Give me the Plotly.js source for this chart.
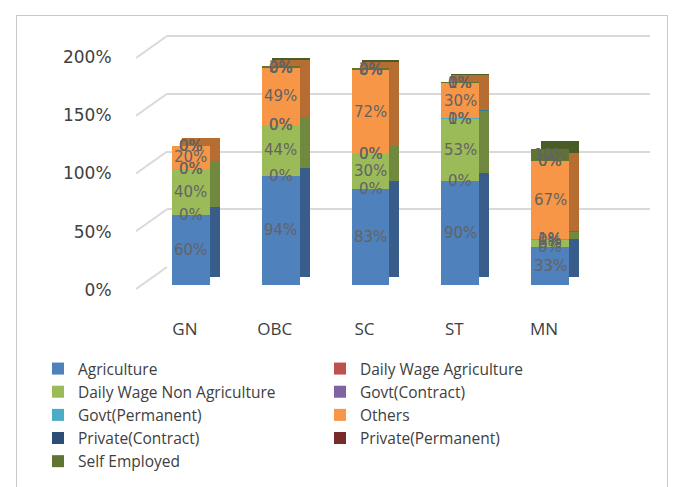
<!DOCTYPE html>
<html>
<head>
<meta charset="utf-8">
<script src="https://cdn.plot.ly/plotly-3.0.1.min.js"></script>
<style>
  html, body { margin: 0; padding: 0; background: #ffffff; overflow: hidden; }
  #wrap { position: relative; width: 681px; height: 487px; }
  #chart { position: absolute; left: 0; top: 0; width: 681px; height: 487px; }
  #frame { position: absolute; left: 16px; top: 15px; width: 650px; height: 480px;
           border-top: 1px solid #c8c8c8; border-left: 1px solid #c8c8c8; border-right: 1px solid #c8c8c8;
           pointer-events: none; }
</style>
</head>
<body>
<div id="wrap">
  <div id="chart"></div>
  <div id="frame"></div>
</div>
<script>
// ---- data (percent) ----
const categories = ['GN', 'OBC', 'SC', 'ST', 'MN'];
const seriesNames = ['Agriculture', 'Daily Wage Agriculture', 'Daily Wage Non Agriculture',
  'Govt(Contract)', 'Govt(Permanent)', 'Others', 'Private(Contract)', 'Private(Permanent)', 'Self Employed'];
const agriculture        = [60, 94, 83, 90, 33];
const dailyWageAgri      = [0, 0, 0, 0, 0];
const dailyWageNonAgri   = [40, 44, 30, 53, 6];
const govtContract       = [0, 0, 0, 0, 0];
const govtPermanent      = [0, 0, 0, 1, 1];
const others             = [20, 49, 72, 30, 67];
const privateContract    = [0, 0, 0, 0, 0];
const privatePermanent   = [0, 0, 0, 0, 0];
const selfEmployed       = [0, 2, 2, 1, 10];
const tickValues = [0, 50, 100, 150, 200];

const seriesValues = [agriculture, dailyWageAgri, dailyWageNonAgri, govtContract, govtPermanent,
  others, privateContract, privatePermanent, selfEmployed];

// ---- styles ----
const frontColors = ['#4F81BD', '#C0504D', '#9BBB59', '#8064A2', '#4BACC6', '#F79646', '#2C4D75', '#772C2A', '#5F7530'];
const sideColors  = ['#385D8A', '#8C3A38', '#71893F', '#5C4776', '#357D91', '#B66D31', '#1E3552', '#561F1E', '#4A5C25'];

const W = 681, H = 487, yMax = 210;
const px = x => x / W;
const py = y => (H - y) / H;
function yDomain(basePx, k) { return [py(basePx), py(basePx - yMax * k)]; }

const front = { xL: 146, xR: 595, base: 285, k: 1.16 };
const back  = { xL: 156, xR: 605, base: 277, k: 1.16 };
const grid  = { xL: 167, xR: 650, base: 267, k: 1.155 };
const lab   = { xL: 140, xR: 589, base: 290, k: 1.165 };

const xIdx = categories.map((c, i) => i);
const totals = categories.map((c, i) => seriesValues.reduce((a, vals) => a + vals[i], 0));

const traces = [];
// invisible carriers so that the wall grid and the label axes get drawn
traces.push({ type: 'bar', x: xIdx, y: totals, xaxis: 'x', yaxis: 'y', showlegend: false,
  hoverinfo: 'skip', marker: { color: 'rgba(0,0,0,0)' } });
// back (depth) copy
seriesValues.forEach((vals, s) => {
  traces.push({
    type: 'bar', x: xIdx, y: vals, name: seriesNames[s],
    xaxis: 'x2', yaxis: 'y2', showlegend: false, hoverinfo: 'skip',
    marker: { color: sideColors[s], line: { width: 0 } }
  });
});
// front faces
seriesValues.forEach((vals, s) => {
  traces.push({
    type: 'bar', x: xIdx, y: vals, name: seriesNames[s],
    xaxis: 'x3', yaxis: 'y3', textposition: 'none',
    marker: { color: frontColors[s], line: { width: 0 } }
  });
});
traces.push({ type: 'bar', x: xIdx, y: totals, xaxis: 'x4', yaxis: 'y4', showlegend: false,
  hoverinfo: 'skip', marker: { color: 'rgba(0,0,0,0)' } });

// data labels (centred on each segment)
const annotations = [];
const cum = categories.map(() => 0);
seriesValues.forEach((vals) => {
  vals.forEach((v, i) => {
    annotations.push({
      xref: 'x3', yref: 'y3', x: i, y: cum[i] + v / 2, text: v + '%', showarrow: false,
      font: { family: 'DejaVu Sans', size: 15, color: '#636363' }
    });
    cum[i] += v;
  });
});

// perspective gridline stubs on the left wall
const shapes = tickValues.map(v => {
  const yWall = grid.base - v * grid.k;
  return { type: 'line', xref: 'paper', yref: 'paper',
    x0: px(136), y0: py(yWall + 22), x1: px(grid.xL), y1: py(yWall),
    line: { color: '#d9d9d9', width: 2 } };
});

const hiddenAxis = { showgrid: false, zeroline: false, showticklabels: false, showline: false, ticks: '', fixedrange: true };

const layout = {
  width: W, height: H,
  margin: { l: 0, r: 0, t: 0, b: 0, pad: 0 },
  paper_bgcolor: '#ffffff', plot_bgcolor: 'rgba(0,0,0,0)',
  barmode: 'stack', bargap: 0.577,
  showlegend: true,
  // gridline wall
  xaxis:  Object.assign({}, hiddenAxis, { domain: [px(grid.xL), px(grid.xR)], anchor: 'y', range: [-0.5, 4.5] }),
  yaxis:  Object.assign({}, hiddenAxis, { domain: yDomain(grid.base, grid.k), anchor: 'x', range: [0, yMax],
            showgrid: true, gridcolor: '#d9d9d9', gridwidth: 2, tickvals: tickValues }),
  // depth copy
  xaxis2: Object.assign({}, hiddenAxis, { domain: [px(back.xL), px(back.xR)], anchor: 'y2', range: [-0.5, 4.5] }),
  yaxis2: Object.assign({}, hiddenAxis, { domain: yDomain(back.base, back.k), anchor: 'x2', range: [0, yMax] }),
  // front faces
  xaxis3: Object.assign({}, hiddenAxis, { domain: [px(front.xL), px(front.xR)], anchor: 'y3', range: [-0.5, 4.5] }),
  yaxis3: Object.assign({}, hiddenAxis, { domain: yDomain(front.base, front.k), anchor: 'x3', range: [0, yMax] }),
  // axis labels
  xaxis4: { domain: [px(lab.xL), px(lab.xR)], anchor: 'y4', range: [-0.5, 4.5],
            tickvals: xIdx, ticktext: categories, showgrid: false, zeroline: false, showline: false,
            ticks: 'outside', ticklen: 24, tickcolor: 'rgba(0,0,0,0)',
            tickfont: { family: 'Open Sans', size: 17, color: '#404040' }, fixedrange: true },
  yaxis4: { domain: yDomain(lab.base, lab.k), anchor: 'x4', range: [0, yMax],
            tickvals: tickValues, ticktext: tickValues.map(v => v + '%'),
            showgrid: false, zeroline: false, showline: false,
            ticks: 'outside', ticklen: 24, tickcolor: 'rgba(0,0,0,0)',
            tickfont: { family: 'DejaVu Sans', size: 17, color: '#404040' }, fixedrange: true },
  legend: {
    orientation: 'h', x: px(38), y: py(352), xanchor: 'left', yanchor: 'top',
    entrywidth: 237, entrywidthmode: 'pixels', traceorder: 'normal',
    font: { family: 'Open Sans', size: 15.5, color: '#404040' }, bgcolor: 'rgba(0,0,0,0)'
  },
  annotations: annotations,
  shapes: shapes
};

Plotly.newPlot('chart', traces, layout, { displayModeBar: false, staticPlot: true });
</script>
</body>
</html>
